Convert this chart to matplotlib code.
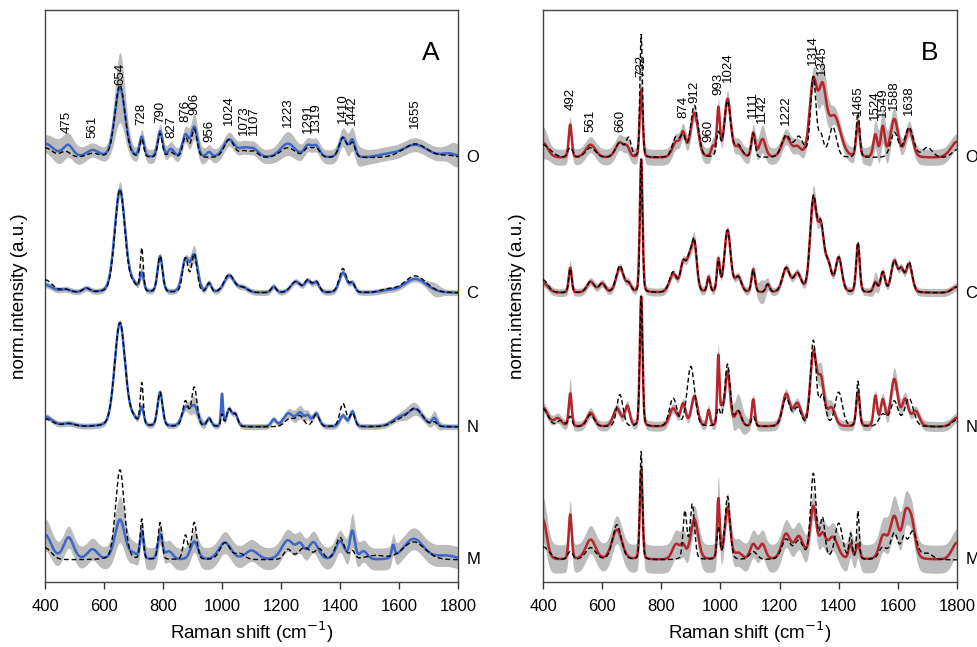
import numpy as np
import matplotlib
matplotlib.use("Agg")
import matplotlib.pyplot as plt

plt.rcParams['font.family'] = ['Liberation Sans', 'DejaVu Sans']

# ---------------- data ----------------
wavenumber = np.arange(400, 1801, 1.0)
rows = ["O", "C", "N", "M"]
x_ticks = [400, 600, 800, 1000, 1200, 1400, 1600, 1800]

# peak tables: (centre cm-1, height a.u., FWHM cm-1)
# ---- panel A ----
A_O_mean = [(400,14,70),(478,12,40),(561,7,50),(654,70,42),(728,20,18),(790,26,20),(827,8,25),
            (876,22,25),(906,30,25),(956,5,20),(1024,18,45),(1073,8,40),(1107,8,40),(1223,14,60),
            (1291,11,30),(1319,11,30),(1410,20,30),(1442,17,22),(1560,3,80),(1655,13,100),(1770,4,60)]
A_O_ref = [(400,10,60),(470,6,40),(561,4,50),(654,73,40),(728,18,15),(790,24,18),(827,5,25),
           (876,20,22),(906,28,22),(1024,18,40),(1073,6,35),(1107,6,35),(1223,10,60),(1291,9,30),
           (1319,9,30),(1410,20,30),(1442,14,22),(1655,14,100),(1770,2,60)]
A_O_sd = [(654,28,40),(460,6,90),(906,6,40),(1223,5,60),(1440,5,60),(1790,5,40)]
A_O_sd_base = 7

A_C_mean = [(400,8,60),(470,3,40),(540,4,30),(654,103,42),(700,6,30),(728,18,16),(790,36,20),
            (876,32,28),(906,36,28),(956,9,18),(1024,17,40),(1070,5,40),(1175,6,20),(1250,11,40),
            (1291,11,25),(1319,10,25),(1410,20,30),(1442,9,20),(1560,2,60),(1655,14,90)]
A_C_ref = [(400,13,60),(470,3,40),(540,4,30),(654,103,40),(700,6,30),(728,43,12),(790,36,20),
           (876,34,22),(906,38,22),(956,9,18),(1024,18,40),(1070,5,40),(1175,6,20),(1250,11,40),
           (1291,12,25),(1319,11,25),(1410,24,30),(1442,9,20),(1560,3,60),(1655,17,90)]
A_C_sd = [(654,5,40),(906,6,30),(1720,4,40),(728,4,15)]
A_C_sd_base = 3

A_N_mean = [(400,10,60),(480,3,50),(654,104,42),(700,6,30),(728,18,16),(790,34,20),(876,18,30),
            (906,20,30),(956,8,18),(1000,32,8),(1024,17,20),(1045,12,20),(1175,7,20),(1225,13,40),
            (1265,13,30),(1291,9,20),(1319,13,25),(1410,11,25),(1442,15,20),(1600,8,60),(1655,17,60),
            (1720,8,20)]
A_N_ref = [(400,8,60),(480,3,50),(654,104,42),(700,6,30),(728,42,12),(790,34,20),(876,25,22),
           (906,39,22),(956,8,18),(1000,12,10),(1024,17,20),(1045,12,20),(1230,8,40),(1265,10,30),
           (1319,12,25),(1410,23,25),(1442,13,20),(1600,6,60),(1655,18,60),(1720,4,20)]
A_N_sd = [(906,6,40),(1260,4,60),(1640,4,60),(1720,4,30)]
A_N_sd_base = 3

A_M_mean = [(400,25,50),(480,22,40),(561,10,40),(654,40,40),(700,5,30),(728,28,14),(790,25,18),
            (820,8,30),(906,18,30),(1010,17,50),(1100,9,50),(1223,19,50),(1265,13,30),(1310,17,40),
            (1400,18,35),(1442,28,20),(1480,8,30),(1580,12,12),(1650,21,80),(1760,4,80)]
A_M_ref = [(400,12,50),(654,90,35),(728,40,12),(790,37,15),(876,24,18),(906,37,20),(1010,17,40),
           (1060,6,40),(1223,10,30),(1280,12,50),(1330,10,30),(1400,22,35),(1442,8,20),(1520,4,80),
           (1650,18,90)]
A_M_sd = [(654,12,40),(1442,6,30),(400,5,60)]
A_M_sd_base = 11

# ---- panel B ----
B_O_mean = [(400,15,40),(492,33,12),(561,13,40),(660,15,35),(685,8,20),(732,68,12),(850,15,30),
            (874,22,20),(912,44,30),(975,10,15),(993,48,12),(1024,58,25),(1060,10,30),(1111,24,15),
            (1142,18,25),(1222,20,35),(1260,9,30),(1314,74,30),(1345,62,30),(1385,40,50),(1465,35,14),
            (1524,22,16),(1549,30,16),(1588,38,30),(1638,28,30),(1800,16,50)]
B_O_ref = [(400,13,60),(492,10,20),(561,10,40),(660,15,35),(690,18,20),(732,123,10),(850,20,30),
           (874,18,20),(912,52,30),(993,24,15),(1024,56,25),(1060,12,30),(1111,24,15),(1222,22,35),
           (1265,20,35),(1314,80,22),(1340,20,20),(1380,30,30),(1465,45,14),(1588,25,30),(1638,30,35),
           (1700,10,40),(1800,8,40)]
B_O_sd = [(1345,14,40),(1550,10,60),(400,8,30),(1142,6,30),(732,6,10)]
B_O_sd_base = 8

B_C_mean = [(400,10,40),(492,25,12),(561,11,30),(600,9,25),(660,25,30),(690,8,20),(732,133,11),
            (840,18,30),(874,28,22),(895,30,22),(912,45,20),(960,15,12),(993,32,12),(1024,62,25),
            (1060,15,25),(1111,23,14),(1160,8,15),(1222,24,30),(1260,18,30),(1314,90,26),(1340,60,25),
            (1365,25,25),(1400,34,25),(1465,48,14),(1524,10,15),(1549,20,18),(1588,31,25),(1612,20,20),
            (1638,28,25),(1800,6,40)]
B_C_ref = [(400,13,40),(492,24,12),(561,11,30),(600,9,25),(660,27,30),(690,8,20),(732,133,10),
           (840,20,30),(874,28,22),(895,30,22),(912,47,20),(960,14,12),(993,30,12),(1024,62,25),
           (1060,15,25),(1111,22,14),(1160,8,15),(1222,24,30),(1260,18,30),(1314,92,26),(1340,62,25),
           (1365,25,25),(1400,34,25),(1465,50,14),(1524,10,15),(1549,20,18),(1588,31,25),(1612,20,20),
           (1638,30,25),(1800,6,40)]
B_C_sd = [(1314,8,30),(1140,8,30),(1524,6,20),(912,4,30),(492,4,15)]
B_C_sd_base = 4

B_N_mean = [(400,19,40),(450,8,30),(492,33,12),(561,14,30),(650,18,30),(685,20,20),(732,130,11),
            (840,18,30),(874,22,20),(912,30,25),(960,16,12),(993,70,9),(1005,15,10),(1024,55,20),
            (1060,15,25),(1111,27,12),(1222,32,30),(1260,22,30),(1314,72,25),(1340,45,25),(1375,18,30),
            (1465,35,14),(1524,30,14),(1549,26,18),(1588,47,28),(1625,26,25),(1660,15,30),(1800,9,40)]
B_N_ref = [(400,18,40),(460,6,30),(492,10,15),(561,12,30),(660,32,25),(732,130,11),(840,28,30),
           (900,60,30),(993,17,15),(1024,62,22),(1060,15,25),(1111,10,15),(1222,28,30),(1260,18,30),
           (1314,85,22),(1345,30,25),(1400,34,30),(1465,45,12),(1549,12,30),(1588,25,30),(1638,28,35),
           (1800,7,40)]
B_N_sd = [(1060,12,40),(1345,8,40),(492,10,12),(1590,6,50),(993,6,12)]
B_N_sd_base = 5

B_M_mean = [(400,40,30),(492,45,12),(561,20,40),(650,30,40),(732,90,11),(850,15,30),(874,12,20),
            (912,40,30),(993,60,10),(1024,52,22),(1060,6,30),(1111,15,25),(1142,15,25),(1222,25,35),
            (1265,22,35),(1314,52,25),(1345,22,25),(1380,22,40),(1440,15,15),(1465,15,15),(1550,22,30),
            (1588,42,35),(1625,35,25),(1645,38,30),(1800,17,40)]
B_M_ref = [(400,13,50),(492,8,20),(561,12,40),(650,35,35),(732,108,10),(880,48,15),(905,55,18),
           (993,32,12),(1024,63,20),(1111,8,30),(1222,20,35),(1265,18,35),(1314,85,22),(1345,40,20),
           (1400,36,30),(1440,25,12),(1465,48,10),(1549,12,30),(1588,26,30),(1620,18,20),(1650,28,35),
           (1700,6,40)]
B_M_sd = [(400,8,40),(1590,6,80),(993,8,12)]
B_M_sd_base = 14

# peak annotations
A_labels = [475, 561, 654, 728, 790, 827, 876, 906, 956, 1024, 1073, 1107, 1223, 1291, 1319, 1410, 1442, 1655]
B_labels = [492, 561, 660, 732, 874, 912, 960, 993, 1024, 1111, 1142, 1222, 1314, 1345, 1465, 1524, 1549, 1588, 1638]

# ---------------- layout ----------------
offsets = {"O": 424, "C": 289, "N": 155, "M": 22}
A_label_y = [449, 444, 497, 457, 459, 444, 460, 467, 440, 457, 447, 447, 455, 449, 450, 459, 457, 454]
B_label_y = [472, 450, 450, 505, 464, 479, 440, 487, 500, 464, 459, 457, 517, 507, 467, 462, 465, 472, 467]


def spectrum(peaks, base=0.0, eta=0.2):
    y = np.full_like(wavenumber, float(base))
    for c, h, w in peaks:
        g = np.exp(-4 * np.log(2) * (wavenumber - c) ** 2 / w ** 2)
        lor = 1.0 / (1.0 + 4 * (wavenumber - c) ** 2 / w ** 2)
        y += h * ((1 - eta) * g + eta * lor)
    return y


panels = {
    "A": {"O": (A_O_mean, A_O_ref, A_O_sd, A_O_sd_base),
          "C": (A_C_mean, A_C_ref, A_C_sd, A_C_sd_base),
          "N": (A_N_mean, A_N_ref, A_N_sd, A_N_sd_base),
          "M": (A_M_mean, A_M_ref, A_M_sd, A_M_sd_base)},
    "B": {"O": (B_O_mean, B_O_ref, B_O_sd, B_O_sd_base),
          "C": (B_C_mean, B_C_ref, B_C_sd, B_C_sd_base),
          "N": (B_N_mean, B_N_ref, B_N_sd, B_N_sd_base),
          "M": (B_M_mean, B_M_ref, B_M_sd, B_M_sd_base)},
}
colors = {"A": "#3b66c9", "B": "#b5262c"}
labels = {"A": (A_labels, A_label_y), "B": (B_labels, B_label_y)}

fig = plt.figure(figsize=(9.78, 6.47), dpi=100)
ax_rects = {"A": [45 / 978, 65 / 647, 413 / 978, 572 / 647],
            "B": [543 / 978, 65 / 647, 414 / 978, 572 / 647]}

for key in ["A", "B"]:
    ax = fig.add_axes(ax_rects[key])
    for r in rows:
        mean_p, ref_p, sd_p, sd_base = panels[key][r]
        off = offsets[r]
        m = spectrum(mean_p) + off
        ref = spectrum(ref_p) + off
        sd = spectrum(sd_p, sd_base, eta=0.0)
        ax.fill_between(wavenumber, m - sd, m + sd, color="#bcbcbc", lw=0, zorder=1)
        ax.plot(wavenumber, m, color=colors[key], lw=1.8, zorder=2)
        ax.plot(wavenumber, ref, color="black", lw=1.0, ls=(0, (3.5, 2)), zorder=3)
        ax.text(1.02, off, r, transform=ax.get_yaxis_transform(), fontsize=12,
                ha="left", va="center", clip_on=False)
    lab, laby = labels[key]
    for wn, yy in zip(lab, laby):
        ax.text(wn, yy, str(wn), rotation=90, ha="center", va="bottom", fontsize=9.5, zorder=4)
    ax.text(0.955, 0.945, key, transform=ax.transAxes, fontsize=19, ha="right", va="top")
    ax.set_xlim(400, 1800)
    ax.set_ylim(0, 572)
    ax.set_xticks(x_ticks)
    ax.set_yticks([])
    ax.tick_params(axis="x", direction="out", length=5, width=1, labelsize=12, pad=7, color="#333333")
    for s in ax.spines.values():
        s.set_color("#444444")
        s.set_linewidth(1.0)
    ax.set_xlabel("Raman shift (cm$^{-1}$)", fontsize=13.5, labelpad=4)
    ax.set_ylabel("norm.intensity (a.u.)", fontsize=13.5, labelpad=12)

fig.savefig("out.png", dpi=100)
